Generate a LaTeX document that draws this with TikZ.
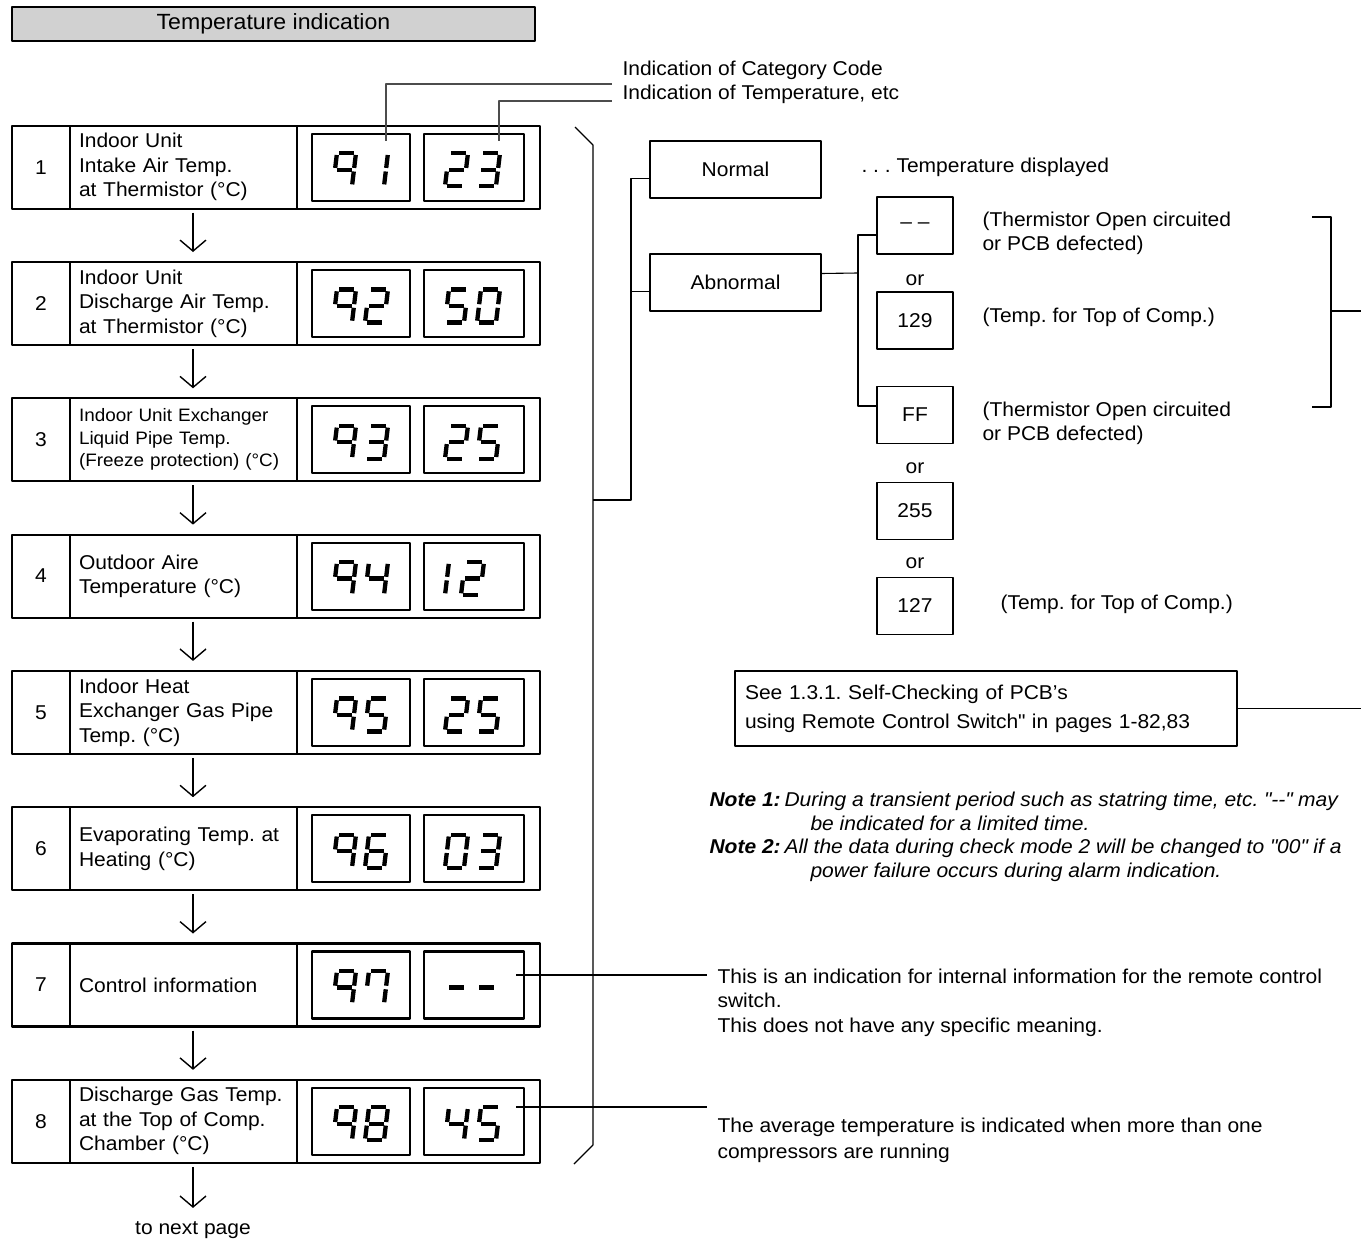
\documentclass[tikz,border=0pt]{standalone}
\usepackage{fontspec}
\setmainfont{Liberation Sans}[FakeStretch=1.05]
\usetikzlibrary{arrows.meta,positioning}
\frenchspacing
\makeatletter
\newcommand\lcddigit[3]{%
  \begin{scope}[shift={(#1,#2)},y=1pt,xslant=0.12]
    \foreach \s/\xa/\ya/\xb/\yb in {a/2.2/33/16.8/33,b/19/31.2/19/18.3,c/19/14.7/19/1.8,d/2.2/0/16.8/0,e/0/14.7/0/1.8,f/0/31.2/0/18.3,g/2.2/16.5/16.8/16.5}{%
      \edef\lcd@test{\noexpand\in@{\s}{#3}}\lcd@test
      \ifin@\draw[lcdseg] (\xa,\ya) -- (\xb,\yb);\fi}
  \end{scope}}
\makeatother
\begin{document}
\begin{tikzpicture}[x=1pt,y=-1pt,line join=round,
  every node/.style={font=\fontsize{20}{24.5}\selectfont},
  headbox/.style={draw,line width=2pt,fill=black!18,minimum width=523pt,minimum height=34pt,inner sep=0pt,font=\fontsize{22}{24}\selectfont},
  cellbox/.style={draw,line width=2.2pt,minimum height=83pt,inner sep=0pt,outer sep=0pt,anchor=north west},
  lcdbox/.style={draw,line width=2.2pt,minimum height=67pt,outer sep=0pt,anchor=north west},
  lcdseg/.style={line width=4.3pt},
  flowarrow/.style={line width=1.4pt,-{Straight Barb[length=11pt,width=26pt]}},
  thinbox/.style={draw,line width=1.2pt,minimum width=76pt,minimum height=57pt,outer sep=0pt},
  leader/.style={line width=1.1pt,black!70},
  conn/.style={line width=1.1pt}]
\useasboundingbox (0,0) rectangle (1361,1242);
\node[headbox] (head) at (273.5,24) {Temperature indication};
% rows of the check mode
\foreach \i/\fs/\bs/\txt/\sa/\sb/\xb/\sc/\xc in {
  1/20/24.5/{Indoor Unit\\Intake Air Temp.\\at Thermistor (°C)}/bc/abdeg/445/abcdg/477,
  2/20/24.5/{Indoor Unit\\Discharge Air Temp.\\at Thermistor (°C)}/abdeg/acdfg/445/abcdef/477,
  3/18/22.5/{Indoor Unit Exchanger\\Liquid Pipe Temp.\\(Freeze protection) (°C)}/abcdg/abdeg/445/acdfg/477,
  4/20/24.5/{Outdoor Aire\\Temperature (°C)}/bcfg/bc/426/abdeg/461,
  5/20/24.5/{Indoor Heat\\Exchanger Gas Pipe\\Temp. (°C)}/acdfg/abdeg/445/acdfg/477,
  6/20/24.5/{Evaporating Temp. at\\Heating (°C)}/acdefg/abcdef/445/abcdg/477,
  7/20/24.5/{Control information}/abcf/g/445/g/475,
  8/20/24.5/{Discharge Gas Temp.\\at the Top of Comp.\\Chamber (°C)}/abcdefg/bcfg/445/acdfg/477}{
  \pgfmathsetmacro\y{125.7+136.3*(\i-1)}
  \node[cellbox,minimum width=58pt] (num\i) at (12,\y) {\i};
  \node[cellbox,minimum width=227pt,text width=209pt,inner xsep=9pt,align=left,font=\fontsize{\fs}{\bs}\selectfont] (txt\i) at (num\i.north east) {\txt};
  \node[cellbox,minimum width=243pt] (disp\i) at (txt\i.north east) {};
  \node[lcdbox,minimum width=98pt] (lcda\i) at (312,\y+8) {};
  \node[lcdbox,minimum width=100pt] (lcdb\i) at (424,\y+8) {};
  \lcddigit{333}{\y+60.5}{abcfg}
  \lcddigit{365}{\y+60.5}{\sa}
  \lcddigit{\xb}{\y+60.5}{\sb}
  \lcddigit{\xc}{\y+60.5}{\sc}
}
\foreach \i [evaluate=\i as \j using int(\i+1)] in {1,...,7}
  \draw[flowarrow] ([xshift=9.5pt,yshift=-4pt]txt\i.south) -- ([xshift=9.5pt,yshift=10pt]txt\j.north);
\node (nextpage) at (193,1230) {to next page};
\draw[flowarrow] ([xshift=9.5pt,yshift=-4pt]txt8.south) -- ([yshift=10pt]nextpage.north);
% category code / temperature leaders
\node[anchor=west] (catcode) at (619,70) {Indication of Category Code};
\node[anchor=west] (tempind) at (619,94) {Indication of Temperature, etc};
\coordinate (catend) at (612,84);
\coordinate (tempend) at (612,101);
\draw[leader] ([xshift=25pt,yshift=-7pt]lcda1.north) |- (catend);
\draw[leader] ([xshift=25pt,yshift=-7pt]lcdb1.north) |- (tempend);
% bracket
\coordinate (brtop) at (575,127);
\coordinate (brtopc) at (593,145);
\coordinate (brbotc) at (593,1145);
\coordinate (brbot) at (574,1164);
\coordinate (brmid) at (593,500);
\coordinate (brsplit) at (631,500);
\draw[conn] (brtop) -- (brtopc) -- (brbotc) -- (brbot);
\node[thinbox,minimum width=171pt] (normal) at (735.5,169.5) {Normal};
\node[thinbox,minimum width=171pt] (abnormal) at (735.5,282.5) {Abnormal};
\node[anchor=west] (normtxt) at (858,167) {. . . Temperature displayed};
\draw[conn] ([yshift=-9pt]normal.west) -| (brsplit) -- (brmid);
\draw[conn] ([yshift=-9pt]abnormal.west) -- ([yshift=-9pt]abnormal.west -| brsplit);
\foreach \n/\v/\yy in {dash/{\textendash\ \textendash}/225.5,v129/129/320.5,ff/FF/415,v255/255/511,v127/127/606}
  \node[thinbox] (\n) at (915,\yy) {\v};
\foreach \k/\yy in {1/280,2/468,3/563}
  \node (or\k) at (915,\yy) {or};
\coordinate (abnjoin) at (858,273);
\draw[conn] ([yshift=9pt]abnormal.east) -- (abnjoin);
\draw[conn] ([yshift=-9.5pt]dash.west) -| (abnjoin) |- ([yshift=9pt]ff.west);
\node[anchor=west,align=left] (opena) at (979,233.5) {(Thermistor Open circuited\\or PCB defected)};
\node[anchor=west] (topa) at (979,317) {(Temp. for Top of Comp.)};
\node[anchor=west,align=left] (openb) at (979,423.5) {(Thermistor Open circuited\\or PCB defected)};
\node[anchor=west] (topb) at (997,604) {(Temp. for Top of Comp.)};
\coordinate (rbtop) at (1312,217);
\coordinate (rbbot) at (1312,407);
\coordinate (rbmid) at (1331,311);
\coordinate (rbout) at (1361,311);
\draw[conn] (rbtop) -| (rbmid) |- (rbbot);
\draw[conn] (rbmid) -- (rbout);
% self-checking reference and notes
\node[draw,line width=1.2pt,minimum height=75pt,text width=482pt,inner xsep=10pt,align=left,font=\fontsize{20}{29}\selectfont] (seebox) at (986,708.5) {See 1.3.1. Self-Checking of PCB's\\using Remote Control Switch\textquotedbl\ in pages 1-82,83};
\coordinate (seeout) at (1361,708.5);
\draw[conn] (seebox.east) -- (seeout);
\node[anchor=west,align=left,font=\fontsize{20}{24}\selectfont\itshape] (note1) at (706,811.5) {\makebox[75pt][l]{\bfseries Note 1:}During a transient period such as statring time, etc. \textquotedbl-{}-\textquotedbl\ may\\\hspace*{101pt}be indicated for a limited time.};
\node[anchor=west,align=left,font=\fontsize{20}{24}\selectfont\itshape] (note2) at (706,860) {\makebox[75pt][l]{\bfseries Note 2:}All the data during check mode 2 will be changed to \textquotedbl 00\textquotedbl\ if a\\\hspace*{101pt}power failure occurs during alarm indication.};
% remarks for rows 7 and 8
\coordinate (ctrlinfo) at (707,975);
\coordinate (avgtemp) at (707,1107);
\draw[conn] ([xshift=-8pt,yshift=10pt]lcdb7.east) -- (ctrlinfo);
\draw[conn] ([xshift=-8pt,yshift=14.3pt]lcdb8.east) -- (avgtemp);
\node[anchor=west,align=left] (infotxt) at (714,1002.5) {This is an indication for internal information for the remote control\\switch.\\This does not have any specific meaning.};
\node[anchor=west,align=left,font=\fontsize{20}{26}\selectfont] (avgtxt) at (714,1140) {The average temperature is indicated when more than one\\compressors are running};
\end{tikzpicture}
\end{document}
